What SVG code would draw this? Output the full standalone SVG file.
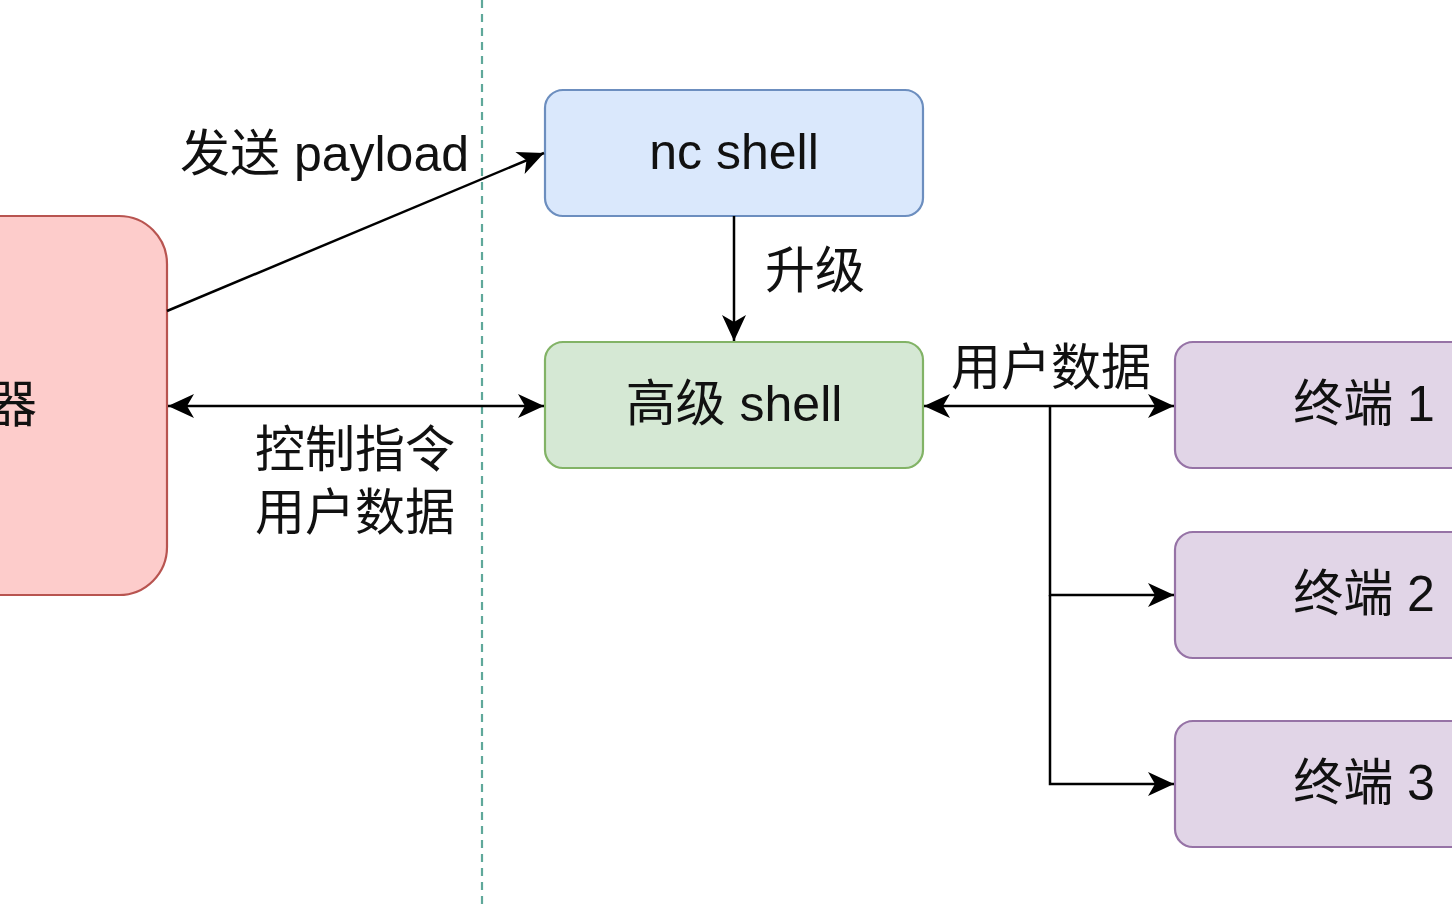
<svg xmlns="http://www.w3.org/2000/svg" width="1452" height="910" viewBox="0 0 1452 910">
<defs>
<marker id="arr" viewBox="-28 -14 30 28" refX="0" refY="0" markerWidth="30" markerHeight="28" markerUnits="userSpaceOnUse" orient="auto-start-reverse">
<path d="M0,0 L-26,-12 L-19,0 L-26,12 Z" fill="#000"/>
</marker>
<style>
.t{font-family:"Liberation Sans","Noto Sans CJK SC",sans-serif;font-size:50px;fill:#111;}
.c{stroke:#000;stroke-width:2.5;fill:none;}
.box{stroke-width:2.2;}
</style>
</defs>
<rect width="1452" height="910" fill="#fff"/>
<line x1="482" y1="0" x2="482" y2="910" stroke="#5fa89a" stroke-width="2.2" stroke-dasharray="8,6"/>
<g id="server">
<rect class="box" x="-211" y="216" width="378" height="379" rx="48" fill="#fdcccb" stroke="#b85450"/>
<text class="t" x="-13" y="422">器</text>
</g>
<g id="nc-shell">
<rect class="box" x="545" y="90" width="378" height="126" rx="18" fill="#dae8fc" stroke="#6c8ebf"/>
<text class="t" x="734" y="169" text-anchor="middle">nc shell</text>
</g>
<g id="adv-shell">
<rect class="box" x="545" y="342" width="378" height="126" rx="18" fill="#d5e8d4" stroke="#82b366"/>
<text class="t" x="734" y="421" text-anchor="middle">高级 shell</text>
</g>
<g id="term1">
<rect class="box" x="1175" y="342" width="378" height="126" rx="18" fill="#e1d5e7" stroke="#9673a6"/>
<text class="t" x="1364" y="421" text-anchor="middle">终端 1</text>
</g>
<g id="term2">
<rect class="box" x="1175" y="532" width="378" height="126" rx="18" fill="#e1d5e7" stroke="#9673a6"/>
<text class="t" x="1364" y="611" text-anchor="middle">终端 2</text>
</g>
<g id="term3">
<rect class="box" x="1175" y="721" width="378" height="126" rx="18" fill="#e1d5e7" stroke="#9673a6"/>
<text class="t" x="1364" y="800" text-anchor="middle">终端 3</text>
</g>
<g id="connectors">
<line class="c" x1="167" y1="311" x2="544" y2="153" marker-end="url(#arr)"/>
<line class="c" x1="734" y1="216" x2="734" y2="341" marker-end="url(#arr)"/>
<line class="c" x1="168" y1="406" x2="544" y2="406" marker-start="url(#arr)" marker-end="url(#arr)"/>
<line class="c" x1="924" y1="406" x2="1174" y2="406" marker-start="url(#arr)" marker-end="url(#arr)"/>
<polyline class="c" points="1050,406 1050,595 1174,595" marker-end="url(#arr)"/>
<polyline class="c" points="1050,595 1050,784 1174,784" marker-end="url(#arr)"/>
</g>
<g id="labels">
<text class="t" x="180" y="171">发送 payload</text>
<text class="t" x="765" y="288">升级</text>
<text class="t" x="355" y="467" text-anchor="middle">控制指令</text>
<text class="t" x="355" y="530" text-anchor="middle">用户数据</text>
<text class="t" x="1051" y="385" text-anchor="middle">用户数据</text>
</g>
</svg>
